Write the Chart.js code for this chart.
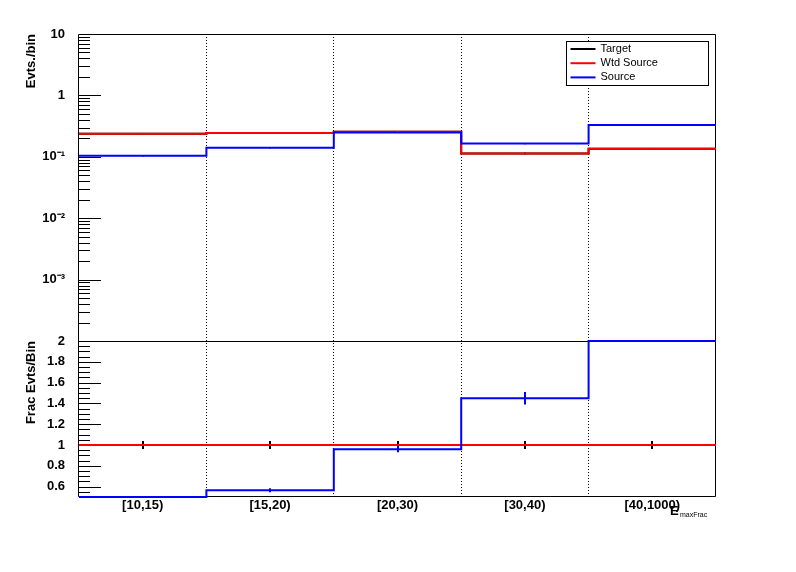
<!DOCTYPE html>
<html><head><meta charset="utf-8">
<script src="https://cdn.jsdelivr.net/npm/chart.js@4.4.1/dist/chart.umd.min.js"></script>
<style>html,body{margin:0;padding:0;background:#fff;} canvas{display:block}</style>
</head><body>
<canvas id="c" width="796" height="572"></canvas>
<script>
// ---- data ----
const categories = ['[10,15)', '[15,20)', '[20,30)', '[30,40)', '[40,1000)'];
const targetValues = [0.237, 0.243, 0.255, 0.113, 0.135];
const wtdSourceValues = [0.237, 0.243, 0.255, 0.113, 0.135];
const sourceValues = [0.104, 0.140, 0.248, 0.164, 0.330];
const targetErrors = [0.006, 0.007, 0.007, 0.004, 0.004];
const wtdSourceErrors = [0.005, 0.006, 0.006, 0.003, 0.003];
const sourceErrors = [0.003, 0.004, 0.005, 0.004, 0.006];
const ratioTarget = [1, 1, 1, 1, 1];
const ratioTargetErrors = [0.038, 0.038, 0.038, 0.038, 0.038];
const ratioWtdSource = [1, 1, 1, 1, 1];
const ratioSource = [0.5, 0.565, 0.96, 1.45, 2.0];
const ratioSourceErrors = [0, 0.02, 0.03, 0.06, 0];
const logTickExponents = [-3, -2, -1, 0, 1];
const logTickLabels = ['10\u207B\u00B3', '10\u207B\u00B2', '10\u207B\u00B9', '1', '10'];
const ratioTickValues = [0.6, 0.8, 1, 1.2, 1.4, 1.6, 1.8, 2];
const ratioTickLabels = ['0.6', '0.8', '1', '1.2', '1.4', '1.6', '1.8', '2'];
const seriesNames = ['Target', 'Wtd Source', 'Source'];
const seriesColors = ['#000000', '#ff0000', '#0000ff'];
const xTitleMain = 'E';
const xTitleSub = 'maxFrac';

Chart.defaults.font.family = "'Liberation Sans', Arial, sans-serif";
Chart.defaults.color = '#000';

function stepPoints(values) {
  const pts = values.map((v, i) => ({x: i, y: v}));
  pts.push({x: values.length, y: values[values.length - 1]});
  return pts;
}
function lineDs(label, values, color, axis, order) {
  return {label, data: stepPoints(values), borderColor: color, backgroundColor: color,
    borderWidth: 2, pointRadius: 0, stepped: 'before', fill: false, yAxisID: axis, order,
    clip: {left: 0, right: 0, top: 2, bottom: 2}};
}

const datasets = [
  lineDs(seriesNames[0], targetValues, seriesColors[0], 'yTop', 3),
  lineDs(seriesNames[1], wtdSourceValues, seriesColors[1], 'yTop', 2),
  lineDs(seriesNames[2], sourceValues, seriesColors[2], 'yTop', 1),
  lineDs('ratio ' + seriesNames[0], ratioTarget, seriesColors[0], 'yRatio', 6),
  lineDs('ratio ' + seriesNames[1], ratioWtdSource, seriesColors[1], 'yRatio', 5),
  lineDs('ratio ' + seriesNames[2], ratioSource, seriesColors[2], 'yRatio', 4)
];

function drawErrBars(chart, axisId, values, errors, color, width) {
  const ctx = chart.ctx, xs = chart.scales.x, ys = chart.scales[axisId];
  ctx.save();
  ctx.beginPath();
  ctx.rect(chart.chartArea.left, ys.top, chart.chartArea.right - chart.chartArea.left, ys.bottom - ys.top);
  ctx.clip();
  ctx.strokeStyle = color; ctx.lineWidth = width;
  values.forEach((v, i) => {
    const e = errors[i];
    if (!e) return;
    const px = Math.round(xs.getPixelForValue(i + 0.5));
    ctx.beginPath();
    ctx.moveTo(px, ys.getPixelForValue(v + e));
    ctx.lineTo(px, ys.getPixelForValue(Math.max(v - e, 1e-9)));
    ctx.stroke();
  });
  ctx.restore();
}

const rootPlugin = {
  id: 'rootStyle',
  beforeDatasetsDraw(chart) {
    const ctx = chart.ctx, ca = chart.chartArea;
    ctx.save();
    ctx.strokeStyle = '#000'; ctx.lineWidth = 1;
    const L = Math.round(ca.left) - 0.5, R = Math.round(ca.right) - 0.5;
    const top = chart.scales.yTop, rat = chart.scales.yRatio;
    const yT = Math.round(top.top) + 0.5, yM = Math.round(rat.top) + 0.5, yB = Math.round(rat.bottom) - 0.5;
    ctx.beginPath();
    ctx.rect(L, yT, R - L, yB - yT);
    ctx.moveTo(L, yM); ctx.lineTo(R, yM);
    ctx.stroke();
    // inside tick marks
    ['yTop', 'yRatio'].forEach(id => {
      const s = chart.scales[id];
      s.ticks.forEach(t => {
        const major = id === 'yTop'
          ? Math.abs(Math.log10(t.value) - Math.round(Math.log10(t.value))) < 1e-9
          : ratioTickValues.some(v => Math.abs(v - t.value) < 1e-6);
        const len = major ? 22 : 11;
        const py = Math.round(s.getPixelForValue(t.value)) + 0.5;
        ctx.beginPath();
        ctx.moveTo(ca.left, py);
        ctx.lineTo(ca.left + len, py);
        ctx.stroke();
      });
    });
    ctx.restore();
    drawErrBars(chart, 'yTop', targetValues, targetErrors, seriesColors[0], 2);
    drawErrBars(chart, 'yRatio', ratioTarget, ratioTargetErrors, seriesColors[0], 2);
  },
  afterDatasetsDraw(chart) {
    drawErrBars(chart, 'yTop', wtdSourceValues, wtdSourceErrors, seriesColors[1], 2);
    drawErrBars(chart, 'yTop', sourceValues, sourceErrors, seriesColors[2], 2);
    drawErrBars(chart, 'yRatio', ratioSource, ratioSourceErrors, seriesColors[2], 2);
  },
  afterDraw(chart) {
    const ctx = chart.ctx, ca = chart.chartArea;
    ctx.save();
    ctx.strokeStyle = '#000'; ctx.lineWidth = 1;
    // legend
    const bx = Math.round(ca.right) - 150 + 0.5, by = Math.round(ca.top) + 7 + 0.5, bw = 142, bh = 44;
    ctx.fillStyle = '#fff';
    ctx.fillRect(bx, by, bw, bh);
    ctx.strokeRect(bx, by, bw, bh);
    ctx.font = "11px 'Liberation Sans', Arial, sans-serif";
    ctx.textBaseline = 'middle';
    chart.data.datasets.slice(0, 3).forEach((ds, i) => {
      const yy = by + 7.5 + i * 14.2;
      ctx.strokeStyle = ds.borderColor; ctx.lineWidth = 2;
      ctx.beginPath(); ctx.moveTo(bx + 4, yy); ctx.lineTo(bx + 29, yy); ctx.stroke();
      ctx.fillStyle = '#000';
      ctx.fillText(ds.label, bx + 34, yy);
    });
    // x axis title
    ctx.fillStyle = '#000';
    ctx.textBaseline = 'alphabetic';
    ctx.font = "bold 13px 'Liberation Sans', Arial, sans-serif";
    ctx.fillText(xTitleMain, ca.right - 46, ca.bottom + 18);
    ctx.font = "7px 'Liberation Sans', Arial, sans-serif";
    ctx.fillText(xTitleSub, ca.right - 36, ca.bottom + 20);
    ctx.restore();
  }
};

new Chart(document.getElementById('c'), {
  type: 'line',
  data: {datasets},
  plugins: [rootPlugin],
  options: {
    responsive: false, animation: false, devicePixelRatio: 1,
    layout: {padding: {left: 0, top: 34, right: 80, bottom: 0}},
    plugins: {legend: {display: false}, tooltip: {enabled: false}},
    scales: {
      x: {
        type: 'linear', min: 0, max: categories.length,
        afterBuildTicks: s => {
          const t = [];
          for (let i = 0; i <= categories.length; i++) {
            t.push({value: i});
            if (i < categories.length) t.push({value: i + 0.5});
          }
          s.ticks = t;
        },
        afterFit: s => { s.height = 75; },
        ticks: {
          autoSkip: false, maxRotation: 0, padding: 1,
          font: {size: 13, weight: 'bold'},
          callback: v => Number.isInteger(v) ? '' : categories[Math.floor(v)]
        },
        grid: {
          drawTicks: false, lineWidth: 1,
          color: c => (c.tick && Number.isInteger(c.tick.value) && c.tick.value > 0 && c.tick.value < categories.length) ? '#000' : 'rgba(0,0,0,0)'
        },
        border: {display: false, dash: [1, 2]}
      },
      yRatio: {
        type: 'linear', position: 'left', stack: 'pads', stackWeight: 156, weight: 1,
        min: 0.5, max: 2,
        afterBuildTicks: s => {
          const t = [];
          for (let k = 10; k <= 40; k++) t.push({value: Math.round(k * 5) / 100});
          s.ticks = t;
        },
        afterFit: s => { s.width = 79; },
        ticks: {
          autoSkip: false, padding: 6, font: {size: 13, weight: 'bold'},
          callback: v => {
            const i = ratioTickValues.findIndex(r => Math.abs(r - v) < 1e-6);
            return i >= 0 ? ratioTickLabels[i] : '';
          }
        },
        grid: {display: false},
        border: {display: false},
        title: {display: true, text: 'Frac Evts/Bin', align: 'end',
          font: {size: 13, weight: 'bold'}, padding: {top: 24, bottom: 0}}
      },
      yTop: {
        type: 'logarithmic', position: 'left', stack: 'pads', stackWeight: 307, weight: 2,
        min: 1e-4, max: 10,
        afterBuildTicks: s => {
          const t = [];
          for (let e = -4; e <= 0; e++) for (let m = 1; m <= 9; m++) t.push({value: m * Math.pow(10, e)});
          t.push({value: 10});
          s.ticks = t;
        },
        afterFit: s => { s.width = 79; },
        ticks: {
          autoSkip: false, padding: 6, font: {size: 13, weight: 'bold'},
          callback: v => {
            const lg = Math.log10(v), e = Math.round(lg);
            if (Math.abs(lg - e) > 1e-9) return '';
            const i = logTickExponents.indexOf(e);
            return i >= 0 ? logTickLabels[i] : '';
          }
        },
        grid: {display: false},
        border: {display: false},
        title: {display: true, text: 'Evts./bin', align: 'end',
          font: {size: 13, weight: 'bold'}, padding: {top: 24, bottom: 0}}
      }
    }
  }
});
</script>
</body></html>
